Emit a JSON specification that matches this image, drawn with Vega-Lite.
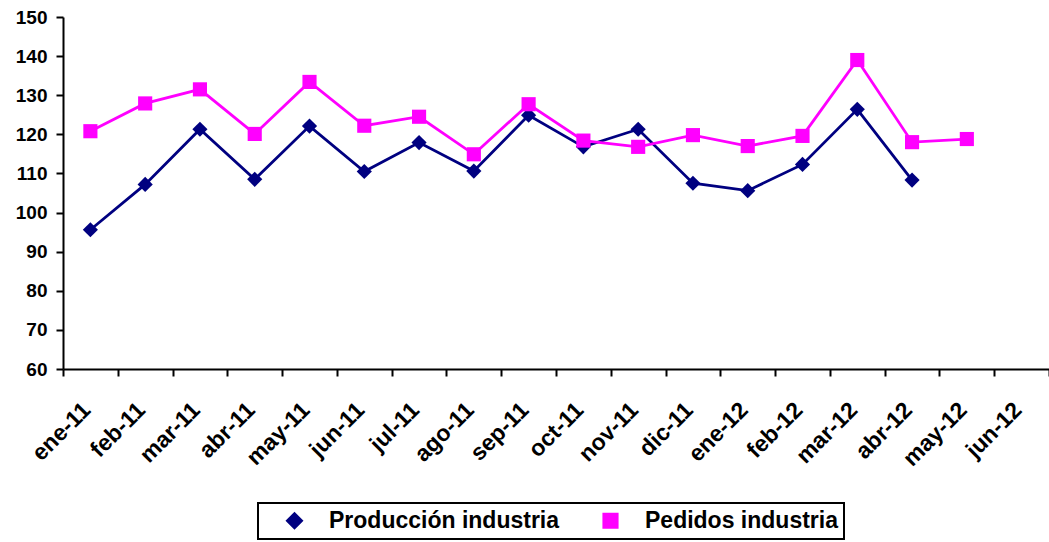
{
  "$schema": "https://vega.github.io/schema/vega-lite/v6.json",
  "width": 986,
  "height": 352,
  "autosize": {"type": "none"},
  "padding": {"left": 63, "top": 17, "right": 0, "bottom": 173},
  "background": "#ffffff",
  "config": {
    "font": "Liberation Sans",
    "view": {"stroke": null},
    "axis": {"grid": false, "domainColor": "#000000", "tickColor": "#000000", "labelColor": "#000000", "labelFont": "Liberation Sans", "labelFontWeight": "bold", "domainWidth": 2, "tickWidth": 2}
  },
  "data": {
    "values": [
      {"mes": "ene-11", "serie": "Producción industria", "valor": 95.6},
      {"mes": "feb-11", "serie": "Producción industria", "valor": 107.2},
      {"mes": "mar-11", "serie": "Producción industria", "valor": 121.3},
      {"mes": "abr-11", "serie": "Producción industria", "valor": 108.5},
      {"mes": "may-11", "serie": "Producción industria", "valor": 122.1},
      {"mes": "jun-11", "serie": "Producción industria", "valor": 110.5},
      {"mes": "jul-11", "serie": "Producción industria", "valor": 117.9},
      {"mes": "ago-11", "serie": "Producción industria", "valor": 110.6},
      {"mes": "sep-11", "serie": "Producción industria", "valor": 124.9},
      {"mes": "oct-11", "serie": "Producción industria", "valor": 116.8},
      {"mes": "nov-11", "serie": "Producción industria", "valor": 121.3},
      {"mes": "dic-11", "serie": "Producción industria", "valor": 107.5},
      {"mes": "ene-12", "serie": "Producción industria", "valor": 105.6},
      {"mes": "feb-12", "serie": "Producción industria", "valor": 112.3},
      {"mes": "mar-12", "serie": "Producción industria", "valor": 126.4},
      {"mes": "abr-12", "serie": "Producción industria", "valor": 108.3},
      {"mes": "ene-11", "serie": "Pedidos industria", "valor": 120.8},
      {"mes": "feb-11", "serie": "Pedidos industria", "valor": 127.9},
      {"mes": "mar-11", "serie": "Pedidos industria", "valor": 131.5},
      {"mes": "abr-11", "serie": "Pedidos industria", "valor": 120.1},
      {"mes": "may-11", "serie": "Pedidos industria", "valor": 133.4},
      {"mes": "jun-11", "serie": "Pedidos industria", "valor": 122.2},
      {"mes": "jul-11", "serie": "Pedidos industria", "valor": 124.5},
      {"mes": "ago-11", "serie": "Pedidos industria", "valor": 114.9},
      {"mes": "sep-11", "serie": "Pedidos industria", "valor": 127.7},
      {"mes": "oct-11", "serie": "Pedidos industria", "valor": 118.4},
      {"mes": "nov-11", "serie": "Pedidos industria", "valor": 116.8},
      {"mes": "dic-11", "serie": "Pedidos industria", "valor": 119.8},
      {"mes": "ene-12", "serie": "Pedidos industria", "valor": 117.0},
      {"mes": "feb-12", "serie": "Pedidos industria", "valor": 119.6},
      {"mes": "mar-12", "serie": "Pedidos industria", "valor": 139.0},
      {"mes": "abr-12", "serie": "Pedidos industria", "valor": 118.0},
      {"mes": "may-12", "serie": "Pedidos industria", "valor": 118.8}
    ]
  },
  "encoding": {
    "x": {
      "field": "mes",
      "type": "ordinal",
      "scale": {"type": "band", "paddingInner": 0, "paddingOuter": 0, "domain": ["ene-11","feb-11","mar-11","abr-11","may-11","jun-11","jul-11","ago-11","sep-11","oct-11","nov-11","dic-11","ene-12","feb-12","mar-12","abr-12","may-12","jun-12"]},
      "axis": {"title": null, "tickBand": "extent", "labelAngle": -45, "labelAlign": "right", "labelBaseline": "middle", "labelFontSize": 23, "tickSize": 7, "labelPadding": 30, "labelOffset": -4}
    },
    "y": {
      "field": "valor",
      "type": "quantitative",
      "scale": {"domain": [60, 150], "nice": false, "zero": false},
      "axis": {"title": null, "values": [60,70,80,90,100,110,120,130,140,150], "labelFontSize": 19, "tickSize": 7, "labelPadding": 9}
    },
    "color": {
      "field": "serie",
      "type": "nominal",
      "sort": null,
      "scale": {"domain": ["Producción industria", "Pedidos industria"], "range": ["#000080", "#FF00FF"]},
      "legend": {
        "title": null,
        "orient": "none",
        "direction": "horizontal",
        "legendX": 195,
        "legendY": 486,
        "padding": 6,
        "strokeColor": "#000000",
        "symbolSize": 400,
        "symbolOffset": 19,
        "symbolStrokeWidth": 2,
        "symbolOpacity": 1,
        "labelOffset": 23,
        "labelLimit": 400,
        "columnPadding": 20,
        "labelFontSize": 23,
        "labelFontWeight": "bold",
        "labelFont": "Liberation Sans",
        "labelColor": "#000000",
        "encode": {
          "legend": {"update": {"strokeWidth": {"value": 2}}},
          "symbols": {
            "update": {
              "shape": {"signal": "datum.value == 'Pedidos industria' ? 'M-2.7,0L2.7,0M-0.7,-0.7L0.7,-0.7L0.7,0.7L-0.7,0.7Z' : 'M-2.7,0L2.7,0M0,-0.7L0.7,0L0,0.7L-0.7,0Z'"},
              "fill": {"signal": "datum.value == 'Pedidos industria' ? '#FF00FF' : '#000080'"},
              "stroke": {"signal": "datum.value == 'Pedidos industria' ? '#FF00FF' : '#000080'"},
              "strokeWidth": {"value": 2},
              "strokeOpacity": {"value": 1},
              "opacity": {"value": 1}
            }
          }
        }
      }
    }
  },
  "layer": [
    {"mark": {"type": "line", "strokeWidth": 2.8}},
    {
      "mark": {"type": "point", "filled": true, "opacity": 1},
      "encoding": {
        "shape": {"field": "serie", "type": "nominal", "scale": {"domain": ["Producción industria", "Pedidos industria"], "range": ["diamond", "square"]}, "legend": null},
        "size": {"field": "serie", "type": "nominal", "scale": {"domain": ["Producción industria", "Pedidos industria"], "range": [230, 200]}, "legend": null}
      }
    }
  ]
}
